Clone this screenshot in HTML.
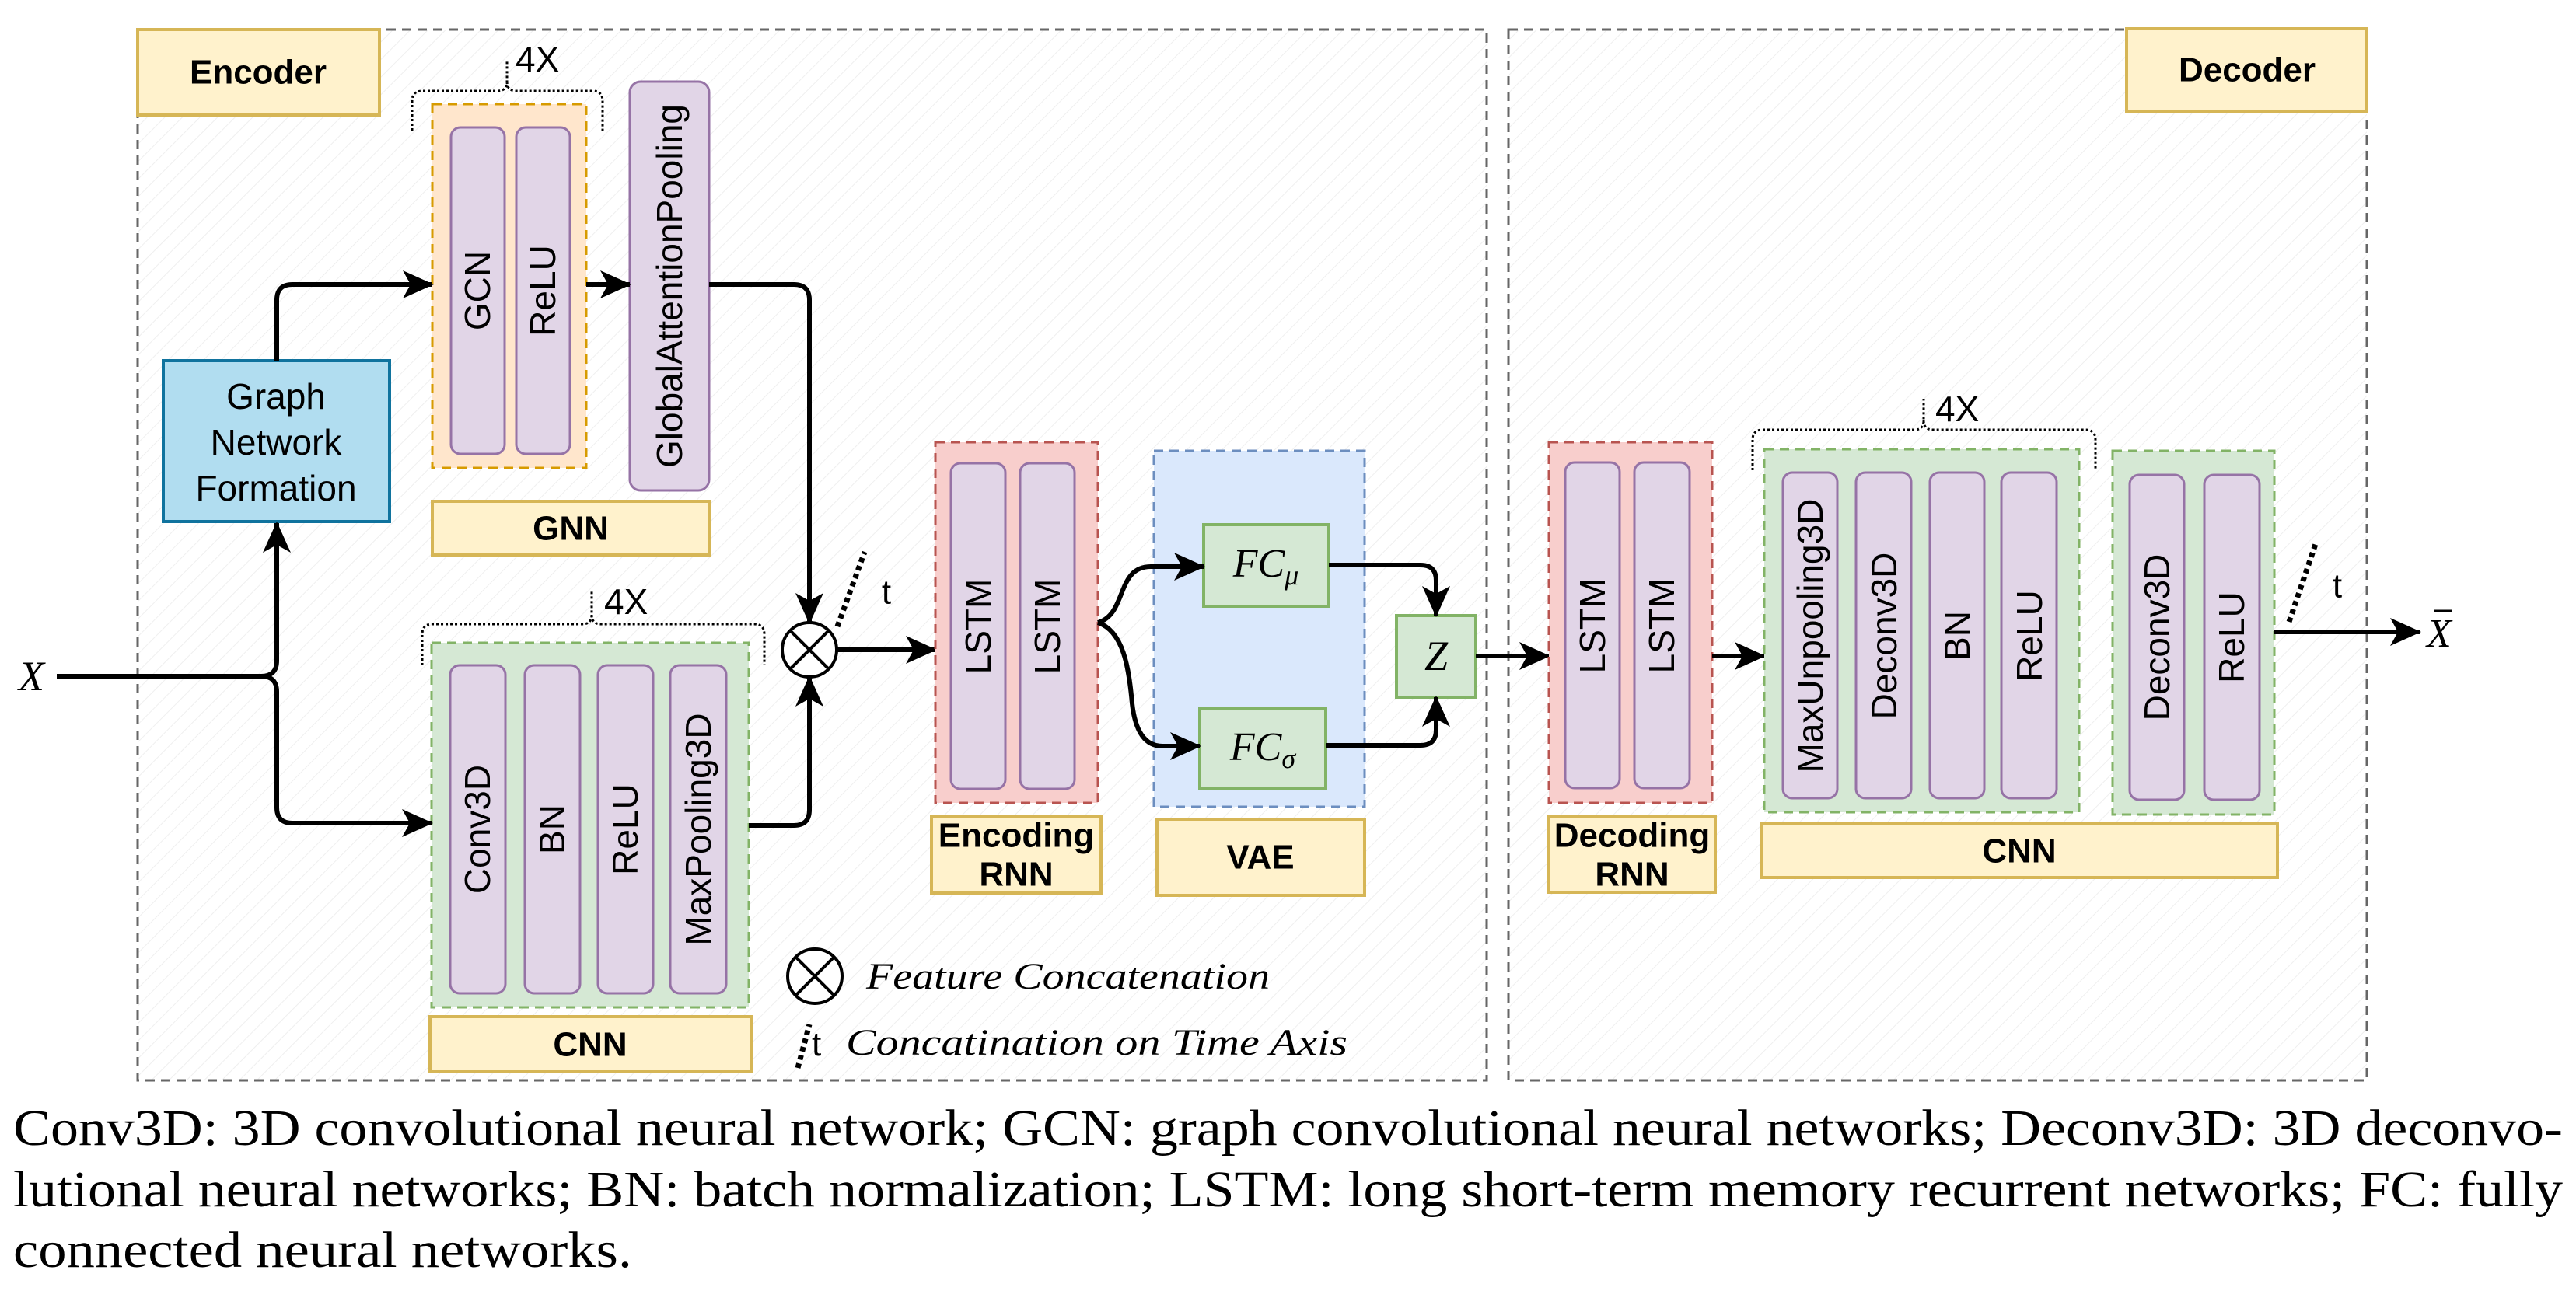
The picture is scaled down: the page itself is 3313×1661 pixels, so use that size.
<!DOCTYPE html>
<html><head><meta charset="utf-8"><style>
html,body{margin:0;padding:0;background:#fff}
svg{display:block}
.bar{fill:#e1d5e7;stroke:#9673a6;stroke-width:3}
.bt{font-family:"Liberation Sans",sans-serif;font-size:46px;fill:#000;text-anchor:middle;dominant-baseline:central}
.lb{fill:#fff2cc;stroke:#d6b656;stroke-width:4}
.lt{font-family:"Liberation Sans",sans-serif;font-weight:bold;font-size:44px;fill:#000;text-anchor:middle;dominant-baseline:central}
.ar{fill:none;stroke:#000;stroke-width:6;stroke-linejoin:round}
.br{fill:none;stroke:#000;stroke-width:3;stroke-dasharray:3 3}
.tk{stroke:#000;stroke-width:7;stroke-dasharray:6 5}
.mt{font-family:"Liberation Serif",serif;font-style:italic;fill:#000}
.cap{font-family:"Liberation Serif",serif;font-size:66px;fill:#000}
.fx{font-family:"Liberation Sans",sans-serif;font-size:46px}
</style></head><body>
<svg width="3313" height="1661" viewBox="0 0 3313 1661" xmlns="http://www.w3.org/2000/svg">
<defs>
<pattern id="h" width="16" height="16" patternUnits="userSpaceOnUse" patternTransform="rotate(45)">
<line x1="0" y1="0" x2="0" y2="16" stroke="#efefef" stroke-width="2"/>
</pattern>
<marker id="m" viewBox="0 0 40 40" refX="38" refY="20" markerWidth="40" markerHeight="40" orient="auto" markerUnits="userSpaceOnUse">
<path d="M0,2 L40,20 L0,38 L10,20 Z" fill="#000"/>
</marker>
</defs>

<rect x="177" y="38" width="1735" height="1352" fill="url(#h)" stroke="#666" stroke-width="3" stroke-dasharray="12 8"/>
<rect x="1940" y="38" width="1104" height="1352" fill="url(#h)" stroke="#666" stroke-width="3" stroke-dasharray="12 8"/>

<rect class="lb" x="177" y="38" width="311" height="110"/>
<text class="lt" x="332" y="93" font-size="46">Encoder</text>
<rect class="lb" x="2735" y="37" width="309" height="107"/>
<text class="lt" x="2890" y="90" font-size="46">Decoder</text>

<rect x="556" y="134" width="198" height="468" fill="#ffe6cc" stroke="#d79b00" stroke-width="3" stroke-dasharray="12 8"/>
<rect class="bar" x="580" y="164" width="69" height="420" rx="12"/>
<rect class="bar" x="664" y="164" width="69" height="420" rx="12"/>
<text class="bt" transform="rotate(-90 614 374)" x="614" y="374">GCN</text>
<text class="bt" transform="rotate(-90 698 374)" x="698" y="374">ReLU</text>
<rect class="bar" x="810" y="105" width="102" height="526" rx="14"/>
<text class="bt" transform="rotate(-90 861 368)" x="861" y="368" font-size="47">GlobalAttentionPooling</text>
<rect class="lb" x="556" y="645" width="356" height="69"/>
<text class="lt" x="734" y="680">GNN</text>
<path class="br" d="M530,168 V130 Q530,117 543,117 H640 Q652,117 652,105 V77 M652,105 Q652,117 664,117 H762 Q775,117 775,130 V168"/>
<text class="fx" x="663" y="92">4X</text>

<rect x="210" y="464" width="291" height="207" fill="#b1ddf0" stroke="#10739e" stroke-width="4"/>
<text class="bt" x="355" y="510">Graph</text>
<text class="bt" x="355" y="569">Network</text>
<text class="bt" x="355" y="628">Formation</text>

<rect x="555" y="827" width="408" height="469" fill="#d5e8d4" stroke="#82b366" stroke-width="3" stroke-dasharray="12 8"/>
<rect class="bar" x="579" y="856" width="71" height="422" rx="12"/>
<rect class="bar" x="675" y="856" width="71" height="422" rx="12"/>
<rect class="bar" x="769" y="856" width="71" height="422" rx="12"/>
<rect class="bar" x="862" y="856" width="72" height="422" rx="12"/>
<text class="bt" transform="rotate(-90 614 1067)" x="614" y="1067">Conv3D</text>
<text class="bt" transform="rotate(-90 710 1067)" x="710" y="1067">BN</text>
<text class="bt" transform="rotate(-90 804 1067)" x="804" y="1067">ReLU</text>
<text class="bt" transform="rotate(-90 898 1067)" x="898" y="1067">MaxPooling3D</text>
<rect class="lb" x="553" y="1308" width="413" height="71"/>
<text class="lt" x="759" y="1344">CNN</text>
<path class="br" d="M543,856 V816 Q543,803 556,803 H749 Q761,803 761,791 V760 M761,791 Q761,803 773,803 H970 Q983,803 983,816 V856"/>
<text class="fx" x="777" y="790">4X</text>

<text class="mt" x="24" y="888" font-size="54">X</text>
<path class="ar" d="M73,870 H336 Q356,870 356,850 V673" marker-end="url(#m)"/>
<path class="ar" d="M73,870 H336 Q356,870 356,890 V1039 Q356,1059 376,1059 H555" marker-end="url(#m)"/>
<path class="ar" d="M356,464 V386 Q356,366 376,366 H556" marker-end="url(#m)"/>
<path class="ar" d="M754,366 H810" marker-end="url(#m)"/>
<path class="ar" d="M912,366 H1021 Q1041,366 1041,386 V801" marker-end="url(#m)"/>
<path class="ar" d="M963,1062 H1021 Q1041,1062 1041,1042 V871" marker-end="url(#m)"/>

<circle cx="1041" cy="836" r="35" fill="#fff" stroke="#000" stroke-width="4"/>
<path d="M1016,811 L1066,861 M1066,811 L1016,861" stroke="#000" stroke-width="4"/>
<line class="tk" x1="1077" y1="806" x2="1112" y2="710"/>
<text x="1140" y="762" font-family="Liberation Sans,sans-serif" font-size="44" text-anchor="middle" dominant-baseline="central">t</text>
<path class="ar" d="M1076,836 H1203" stroke-width="5" marker-end="url(#m)"/>

<rect x="1203" y="569" width="209" height="464" fill="#f8cecc" stroke="#b85450" stroke-width="3" stroke-dasharray="12 8"/>
<rect class="bar" x="1223" y="596" width="70" height="419" rx="12"/>
<rect class="bar" x="1312" y="596" width="70" height="419" rx="12"/>
<text class="bt" transform="rotate(-90 1258 806)" x="1258" y="806">LSTM</text>
<text class="bt" transform="rotate(-90 1347 806)" x="1347" y="806">LSTM</text>
<rect class="lb" x="1198" y="1050" width="218" height="99"/>
<text class="lt" x="1307" y="1075">Encoding</text>
<text class="lt" x="1307" y="1125">RNN</text>

<rect x="1484" y="580" width="271" height="458" fill="#dae8fc" stroke="#6c8ebf" stroke-width="3" stroke-dasharray="12 8"/>
<rect x="1548" y="675" width="161" height="105" fill="#d5e8d4" stroke="#82b366" stroke-width="4"/>
<rect x="1543" y="911" width="162" height="104" fill="#d5e8d4" stroke="#82b366" stroke-width="4"/>
<text class="mt" x="1628" y="742" font-size="52" text-anchor="middle">FC<tspan font-size="36" dy="10">μ</tspan></text>
<text class="mt" x="1624" y="978" font-size="52" text-anchor="middle">FC<tspan font-size="36" dy="10">σ</tspan></text>
<rect class="lb" x="1488" y="1054" width="267" height="98"/>
<text class="lt" x="1621" y="1103">VAE</text>
<path class="ar" d="M1412,801 C1450,790 1435,729 1480,729 H1548" marker-end="url(#m)"/>
<path class="ar" d="M1412,801 C1445,812 1452,860 1456,905 Q1462,960 1495,960 H1543" marker-end="url(#m)"/>
<rect x="1796" y="792" width="102" height="105" fill="#d5e8d4" stroke="#82b366" stroke-width="4"/>
<text class="mt" x="1847" y="862" font-size="54" text-anchor="middle">Z</text>
<path class="ar" d="M1709,727 H1827 Q1847,727 1847,747 V792" marker-end="url(#m)"/>
<path class="ar" d="M1705,959 H1827 Q1847,959 1847,939 V897" marker-end="url(#m)"/>
<path class="ar" d="M1898,844 H1992" marker-end="url(#m)"/>

<rect x="1992" y="569" width="210" height="464" fill="#f8cecc" stroke="#b85450" stroke-width="3" stroke-dasharray="12 8"/>
<rect class="bar" x="2013" y="595" width="70" height="419" rx="12"/>
<rect class="bar" x="2102" y="595" width="71" height="419" rx="12"/>
<text class="bt" transform="rotate(-90 2048 805)" x="2048" y="805">LSTM</text>
<text class="bt" transform="rotate(-90 2137 805)" x="2137" y="805">LSTM</text>
<rect class="lb" x="1992" y="1051" width="214" height="97"/>
<text class="lt" x="2099" y="1075">Decoding</text>
<text class="lt" x="2099" y="1125">RNN</text>
<path class="ar" d="M2202,844 H2269" marker-end="url(#m)"/>

<rect x="2269" y="578" width="405" height="467" fill="#d5e8d4" stroke="#82b366" stroke-width="3" stroke-dasharray="12 8"/>
<rect class="bar" x="2293" y="608" width="70" height="419" rx="12"/>
<rect class="bar" x="2387" y="608" width="71" height="419" rx="12"/>
<rect class="bar" x="2482" y="608" width="70" height="419" rx="12"/>
<rect class="bar" x="2574" y="608" width="71" height="419" rx="12"/>
<text class="bt" transform="rotate(-90 2328 818)" x="2328" y="818">MaxUnpooling3D</text>
<text class="bt" transform="rotate(-90 2423 818)" x="2423" y="818">Deconv3D</text>
<text class="bt" transform="rotate(-90 2517 818)" x="2517" y="818">BN</text>
<text class="bt" transform="rotate(-90 2610 818)" x="2610" y="818">ReLU</text>
<rect x="2717" y="580" width="208" height="468" fill="#d5e8d4" stroke="#82b366" stroke-width="3" stroke-dasharray="12 8"/>
<rect class="bar" x="2739" y="611" width="70" height="418" rx="12"/>
<rect class="bar" x="2835" y="611" width="71" height="418" rx="12"/>
<text class="bt" transform="rotate(-90 2774 820)" x="2774" y="820">Deconv3D</text>
<text class="bt" transform="rotate(-90 2870 820)" x="2870" y="820">ReLU</text>
<rect class="lb" x="2265" y="1060" width="664" height="69"/>
<text class="lt" x="2597" y="1095">CNN</text>
<path class="br" d="M2254,605 V566 Q2254,553 2267,553 H2462 Q2474,553 2474,541 V513 M2474,541 Q2474,553 2486,553 H2682 Q2695,553 2695,566 V605"/>
<text class="fx" x="2489" y="542">4X</text>
<path class="ar" d="M2925,813 H3112" marker-end="url(#m)"/>
<line class="tk" x1="2944" y1="800" x2="2978" y2="700"/>
<text x="3006" y="754" font-family="Liberation Sans,sans-serif" font-size="44" text-anchor="middle" dominant-baseline="central">t</text>
<text class="mt" x="3121" y="832" font-size="52">X</text>
<line x1="3131" y1="786" x2="3153" y2="786" stroke="#000" stroke-width="3"/>

<circle cx="1048" cy="1256" r="35" fill="#fff" stroke="#000" stroke-width="4"/>
<path d="M1023,1231 L1073,1281 M1073,1231 L1023,1281" stroke="#000" stroke-width="4"/>
<text class="mt" x="1114" y="1272" font-size="48" textLength="519" lengthAdjust="spacingAndGlyphs">Feature Concatenation</text>
<line class="tk" x1="1026" y1="1374" x2="1041" y2="1318"/>
<text x="1044" y="1358" font-family="Liberation Sans,sans-serif" font-size="44">t</text>
<text class="mt" x="1088" y="1357" font-size="48" textLength="645" lengthAdjust="spacingAndGlyphs">Concatination on Time Axis</text>

<text class="cap" x="17" y="1473" textLength="3279" lengthAdjust="spacingAndGlyphs">Conv3D: 3D convolutional neural network; GCN: graph convolutional neural networks; Deconv3D: 3D deconvo-</text>
<text class="cap" x="17" y="1552" textLength="3279" lengthAdjust="spacingAndGlyphs">lutional neural networks; BN: batch normalization; LSTM: long short-term memory recurrent networks; FC: fully</text>
<text class="cap" x="17" y="1630" textLength="796" lengthAdjust="spacingAndGlyphs">connected neural networks.</text>
</svg>
</body></html>
